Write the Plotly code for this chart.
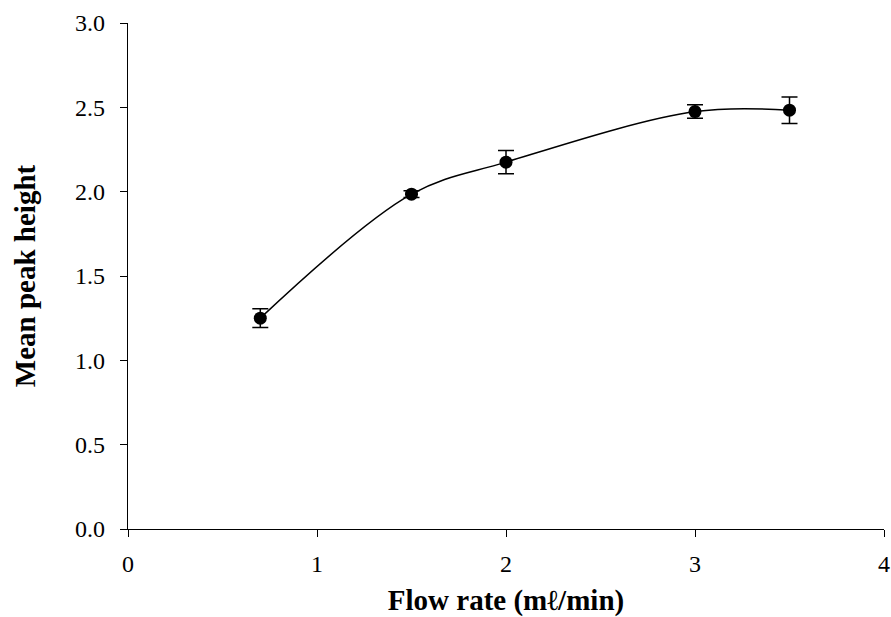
import plotly.graph_objects as go

# Flow rate (ml/min) vs mean peak height, with standard deviation
flow_rate = [0.7, 1.5, 2.0, 3.0, 3.5]
peak_height = [1.25, 1.985, 2.175, 2.475, 2.483]
peak_sd = [0.056, 0.02, 0.069, 0.04, 0.079]

x_ticks = [0, 1, 2, 3, 4]
y_ticks = [0.0, 0.5, 1.0, 1.5, 2.0, 2.5, 3.0]

font_family = "Liberation Serif"

fig = go.Figure()
fig.add_trace(go.Scatter(
    x=flow_rate,
    y=peak_height,
    mode="lines+markers",
    line=dict(color="black", width=1.5, shape="spline", smoothing=1.0),
    marker=dict(color="black", size=13, symbol="circle"),
    error_y=dict(type="data", array=peak_sd, visible=True,
                 color="black", thickness=1.5, width=8),
    showlegend=False,
))

axis_common = dict(
    showline=True, linecolor="black", linewidth=1.2,
    showgrid=False, zeroline=False,
    ticks="outside", ticklen=7, tickwidth=1.2, tickcolor="black",
    tickfont=dict(family=font_family, size=24, color="black"),
    mirror=False, automargin=False,
)

fig.update_layout(
    width=891, height=617,
    margin=dict(l=128, r=7, t=23, b=88),
    paper_bgcolor="white", plot_bgcolor="white",
    font=dict(family=font_family, color="black"),
    xaxis=dict(
        range=[0, 4], tickvals=x_ticks, ticktext=[str(v) for v in x_ticks],
        ticklabelstandoff=6,
        title=dict(text="<b>Flow rate (mℓ/min)</b>",
                   font=dict(family=font_family, size=29, color="black"),
                   standoff=15),
        **axis_common,
    ),
    yaxis=dict(
        range=[0, 3], tickvals=y_ticks, ticktext=[f"{v:.1f}" for v in y_ticks],
        ticklabelstandoff=10,
        title=dict(text="<b>Mean peak height</b>",
                   font=dict(family=font_family, size=29, color="black"),
                   standoff=30),
        **axis_common,
    ),
)

fig.write_html("out.html")
